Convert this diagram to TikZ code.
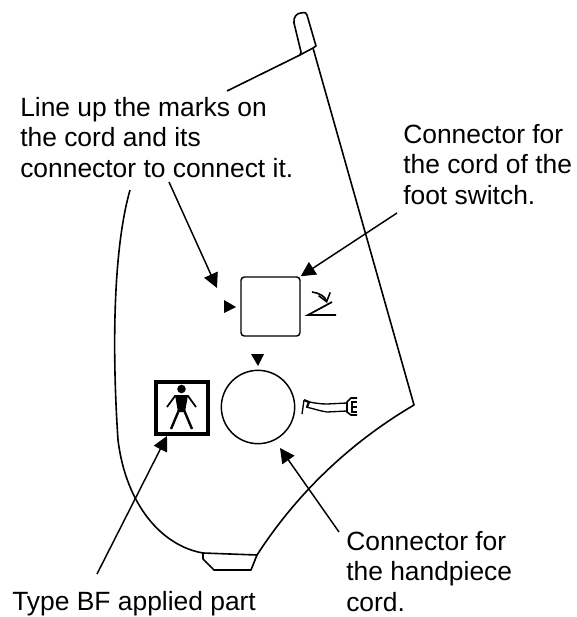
\documentclass[tikz,border=0pt]{standalone}
\usepackage{fontspec}
\setmainfont{Liberation Sans}
\usetikzlibrary{arrows.meta}
\usetikzlibrary{positioning}
\tikzset{
    callout/.style={align=left, inner sep=0pt, font=\fontsize{19.8}{22.9}\selectfont},
    pointer/.style={line width=1.1pt, -{Triangle[length=11pt, width=11pt]}},
    casing/.style={line width=1.2pt, line join=round},
}
\begin{document}
\begin{tikzpicture}[x=0.75pt, y=-0.75pt]
    \useasboundingbox (0,0) rectangle (577,617);
    % casing
    \draw[casing] (313,48) -- (414,405)
        .. controls (380,425) and (312,470) .. (257,555)
        -- (203,553)
        .. controls (162,546) and (126,505) .. (118,440)
        .. controls (112,350) and (113,250) .. (130,190);
    \draw[casing] (227,91) -- (300,55) -- (313,48);
    \draw[casing] (300,55) .. controls (301,54) and (301,53) .. (301,52)
        -- (294,23) .. controls (293,17) and (297,13) .. (301,13)
        .. controls (305,12) and (307,13) .. (307,15) -- (316,46) -- (313,48);
    \draw[casing] (203,553) -- (203,559) -- (214,570) -- (251,570) -- (257,555);
    % ports
    \node[draw, line width=1.1pt, rounded corners=2.5pt, minimum size=44.25pt, inner sep=0pt] (square) at (270.5,306.5) {};
    \node[draw, line width=1.1pt, circle, minimum size=55pt, inner sep=0pt] (round) at (258,407) {};
    \fill (224,300) -- (224,313) -- (236,307) -- cycle;
    \fill (251,354) -- (264,354) -- (258,366) -- cycle;
    % foot switch symbol
    \draw[line width=1.3pt] (336,315) -- (308,315) -- (332,302);
    \draw[line width=1.2pt, -{Straight Barb[length=6pt, width=9pt]}] (312,292) .. controls (319,293) and (325,296) .. (327,303);
    % handpiece symbol
    \draw[line width=1pt] (304,400) -- (302,414);
    \draw[line width=1.6pt] (304,400) -- (309,402) -- (307,407);
    \draw[line width=1pt] (309,402) .. controls (315,403) and (320,404) .. (327,404) -- (347,403);
    \draw[line width=1pt] (306,407) .. controls (315,409) and (320,411) .. (327,412) -- (347,411);
    \draw[line width=1.2pt] (357,398) -- (351,398) -- (347,402) -- (347,412) -- (351,415) -- (357,415);
    \draw[line width=1pt] (357,402) -- (352,402) -- (352,412) -- (357,412) (352,407) -- (357,407);
    % BF symbol
    \node[draw, line width=3pt, minimum size=39pt, inner sep=0pt] (bfbox) at (181.5,407.5) {};
    \fill (181.5,389) circle (3.2pt);
    \draw[line width=1.3pt] (167,407) -- (175,396) -- (188,396) -- (196,407);
    \fill (175,395) -- (188,395) -- (185,412) -- (178,412) -- cycle;
    \draw[line width=1.8pt] (179,410) -- (171,429);
    \draw[line width=1.8pt] (184,410) -- (192,429);
    % labels
    \node[callout, anchor=north west] (marks) at (20,97) {Line up the marks on\\the cord and its\\connector to connect it.};
    \node[callout, anchor=north west] (footlabel) at (403,124) {Connector for\\the cord of the\\foot switch.};
    \node[callout, anchor=north west] (cordlabel) at (346,531) {Connector for\\the handpiece\\cord.};
    \node[callout, anchor=north west] (bflabel) at (12,591) {Type BF applied part};
    % free ends of the pointers
    \coordinate (marksend) at (217,288);
    \coordinate (marksstart) at (169,182);
    \coordinate (footstart) at (397,213);
    \coordinate (cordend) at (280,448);
    \coordinate (cordstart) at (339,532);
    \coordinate (bfend) at (167,436);
    \coordinate (bfstart) at (97,574);
    \draw[pointer] (marksstart) -- (marksend);
    \draw[pointer] (footstart) -- (square.north east);
    \draw[pointer] (cordstart) -- (cordend);
    \draw[pointer] (bfstart) -- (bfend);
\end{tikzpicture}
\end{document}
